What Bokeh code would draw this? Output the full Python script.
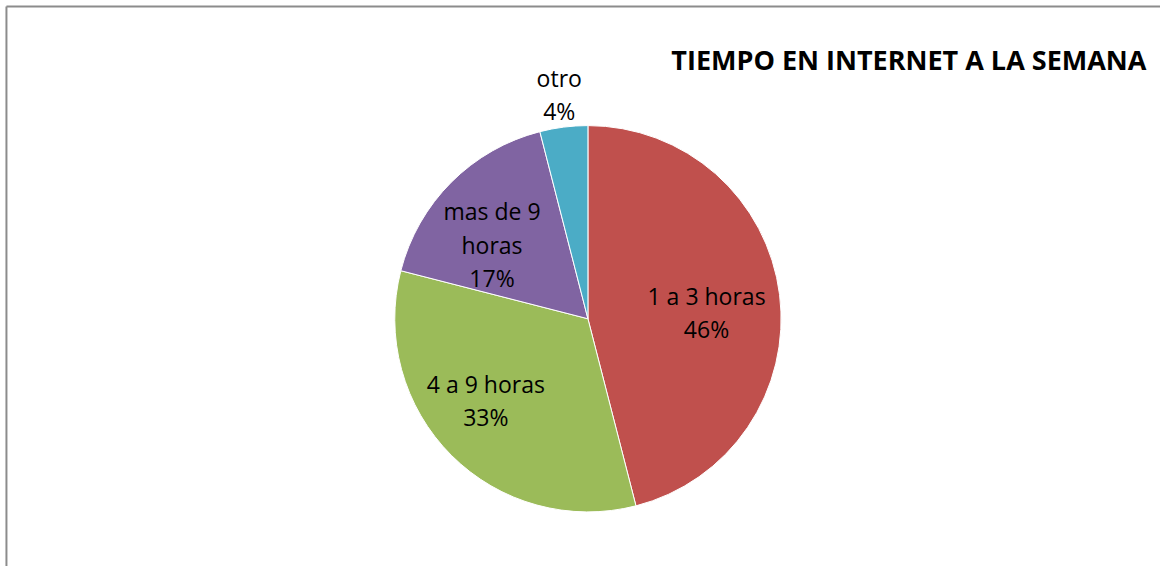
import math
from bokeh.plotting import figure
from bokeh.models import Range1d, ColumnDataSource
from bokeh.core.properties import value
from bokeh.embed import file_html
from bokeh.resources import INLINE

# ---- data ----
categories = ["1 a 3 horas", "4 a 9 horas", "mas de 9 horas", "otro"]
label_texts = ["1 a 3 horas", "4 a 9 horas", "mas de 9\nhoras", "otro"]
percents = [46, 33, 17, 4]
colors = ["#C0504D", "#9BBB59", "#8064A2", "#4BACC6"]
title_text = "TIEMPO EN INTERNET A LA SEMANA"

# ---- layout ----
W, H = 1160, 566            # pixel size of the figure
XR, YR = 1171, 578          # data space
cx, cy, R = 593, 253, 195
label_r = [0.615, 0.68, 0.63, 1.185]
label_da = [-4, -6, 7, 0]   # degrees nudge

total = float(sum(percents))
starts, ends, lx, ly, ltxt = [], [], [], [], []
cum = 0.0
for i, v in enumerate(percents):
    a0 = math.pi / 2 - 2 * math.pi * (cum + v) / total
    a1 = math.pi / 2 - 2 * math.pi * cum / total
    starts.append(a0)
    ends.append(a1)
    mid = (a0 + a1) / 2 + math.radians(label_da[i])
    lx.append(cx + label_r[i] * R * math.cos(mid))
    ly.append(cy + label_r[i] * R * math.sin(mid))
    ltxt.append(f"{label_texts[i]}\n{round(v / total * 100)}%")
    cum += v

src = ColumnDataSource(dict(start=starts, end=ends, color=colors, cat=categories,
                            x=[cx] * len(percents), y=[cy] * len(percents)))
lsrc = ColumnDataSource(dict(x=lx, y=ly, text=ltxt))

p = figure(width=W, height=H, output_backend="svg", toolbar_location=None,
           x_range=Range1d(0, XR), y_range=Range1d(0, YR), min_border=0)
p.axis.visible = False
p.grid.visible = False
p.outline_line_color = None
p.background_fill_color = "white"
p.border_fill_color = "white"

# chart-area border (top and left visible)
p.line([6, XR], [YR - 6, YR - 6], line_color="#8c8c8c", line_width=2)
p.line([6, 6], [0, YR - 6], line_color="#8c8c8c", line_width=2)

p.wedge(x="x", y="y", radius=R, start_angle="start", end_angle="end",
        fill_color="color", line_color="white", line_width=1, source=src)

p.text(x="x", y="y", text="text", source=lsrc, text_align="center",
       text_baseline="middle", text_font=value("Open Sans"),
       text_font_size="23px", text_color="#000000", text_line_height=1.04)

p.text(x=[917], y=[YR - 60], text=[title_text], text_align="center",
       text_baseline="middle", text_font=value("Open Sans"),
       text_font_style="bold", text_font_size="27px", text_color="#000000")

open("out.html", "w").write(file_html(p, INLINE))
